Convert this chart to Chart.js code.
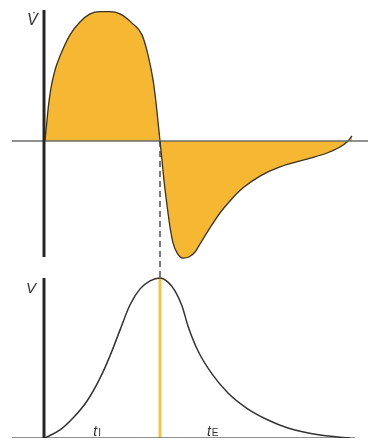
<!DOCTYPE html>
<html>
<head>
<meta charset="utf-8">
<script src="https://cdn.jsdelivr.net/npm/chart.js@4.4.0/dist/chart.umd.min.js"></script>
<style>
  html, body { margin: 0; padding: 0; background: #fff; }
  #wrap { width: 368px; height: 442px; }
</style>
</head>
<body>
<div id="wrap"><canvas id="breath" width="368" height="442"></canvas></div>
<script>
// ===== Data: one breath, time in s (inspiration ends at t = 1) =====
// flow V-dot (L/s): inspiration positive, expiration negative
const flowTime = [0.008, 0.022, 0.039, 0.060, 0.095, 0.138, 0.224, 0.310, 0.397, 0.483, 0.569, 0.655, 0.759, 0.845, 0.897, 0.940, 0.966, 0.983, 1.0,
  1.017, 1.034, 1.060, 1.086, 1.112, 1.147, 1.198, 1.250, 1.302, 1.345, 1.431, 1.517, 1.603, 1.716, 1.862, 2.034, 2.267, 2.440, 2.552, 2.612, 2.655];
const flowValues = [0, 0.061, 0.137, 0.202, 0.271, 0.324, 0.405, 0.454, 0.485, 0.494, 0.494, 0.485, 0.450, 0.405, 0.328, 0.233, 0.145, 0.073, 0,
  -0.073, -0.149, -0.244, -0.328, -0.389, -0.427, -0.447, -0.443, -0.424, -0.393, -0.332, -0.275, -0.229, -0.179, -0.134, -0.099, -0.069, -0.046, -0.023, -0.004, 0.019];

// volume V (L)
const volTime = [0.008, 0.138, 0.250, 0.371, 0.483, 0.569, 0.655, 0.741, 0.828, 0.914, 1.0, 1.069, 1.129, 1.190, 1.241, 1.328, 1.448, 1.586, 1.759, 1.931, 2.103, 2.379, 2.638];
const volValues = [0, 0.025, 0.062, 0.115, 0.186, 0.255, 0.335, 0.413, 0.463, 0.488, 0.497, 0.484, 0.457, 0.410, 0.348, 0.270, 0.199, 0.140, 0.090, 0.056, 0.031, 0.009, 0];

// axes and markers
const flowAxisRange = [-0.443, 0.5];
const volAxisRange = [0, 0.497];
const flowBaseline = [-0.276, 2.793];
const volBaseline = [-0.276, 2.681];
const inspEnd = 1.0;
const dividerFlowRange = [0, -0.523];

// ===== Helpers =====
const toXY = (xs, ys) => xs.map((x, i) => ({ x, y: ys[i] }));

function lineSet(data, yAxisID, color, width, extra) {
  return Object.assign({
    data, yAxisID,
    borderColor: color,
    borderWidth: width,
    pointRadius: 0,
    fill: false,
    tension: 0
  }, extra || {});
}

// ===== Labels =====
const labelPlugin = {
  id: 'labels',
  afterDraw(chart) {
    const ctx = chart.ctx;
    const x = chart.scales.x;
    ctx.save();
    ctx.fillStyle = '#333';
    ctx.textBaseline = 'alphabetic';

    ctx.font = 'italic 16px "Liberation Sans"';
    ctx.fillText('V\u0307', 27, 25);
    ctx.font = 'italic 15px "Liberation Sans"';
    ctx.fillText('V', 26, 293);

    function sub(main, s, px) {
      ctx.font = 'italic 14px "Liberation Sans"';
      ctx.fillText(main, px, 436);
      const w = ctx.measureText(main).width;
      ctx.font = '10px "Liberation Sans"';
      ctx.fillText(s, px + w + 1, 436);
    }
    sub('t', 'I', x.getPixelForValue(0.425));
    sub('t', 'E', x.getPixelForValue(1.405));
    ctx.restore();
  }
};

// ===== Chart =====
const smooth = { tension: 0.4, cubicInterpolationMode: 'monotone' };
const ctx = document.getElementById('breath').getContext('2d');
new Chart(ctx, {
  type: 'line',
  data: {
    datasets: [
      lineSet(toXY([0, 0], flowAxisRange), 'yF', '#262626', 3, { order: 0 }),
      lineSet(toXY([0, 0], volAxisRange), 'yV', '#262626', 3, { order: 0 }),
      lineSet(toXY([inspEnd, inspEnd], volAxisRange), 'yV', '#f4c53e', 3, { order: 3 }),
      lineSet(toXY([inspEnd, inspEnd], dividerFlowRange), 'yF', '#333', 1.3, { order: 1, borderDash: [6, 4] }),
      lineSet(toXY(flowBaseline, [0, 0]), 'yF', '#6b6b6b', 1.5, { order: 2 }),
      lineSet(toXY(volBaseline, [0, 0]), 'yV', '#6b6b6b', 1.5, { order: 2 }),
      lineSet(toXY(flowTime, flowValues), 'yF', '#3a3122', 1.3,
        Object.assign({ order: 4, fill: 'origin', backgroundColor: '#f6b733' }, smooth)),
      lineSet(toXY(volTime, volValues), 'yV', '#333', 1.5, Object.assign({ order: 1 }, smooth))
    ]
  },
  options: {
    responsive: false,
    animation: false,
    layout: { padding: { top: 10, bottom: 4, left: 0, right: 0 } },
    plugins: { legend: { display: false }, tooltip: { enabled: false } },
    scales: {
      x: { type: 'linear', min: -0.3793, max: 2.7931, display: false },
      yF: { type: 'linear', position: 'left', min: -1.134, max: 0.5, display: false },
      yV: { type: 'linear', position: 'left', min: 0, max: 1.329, display: false }
    }
  },
  plugins: [labelPlugin]
});
</script>
</body>
</html>
